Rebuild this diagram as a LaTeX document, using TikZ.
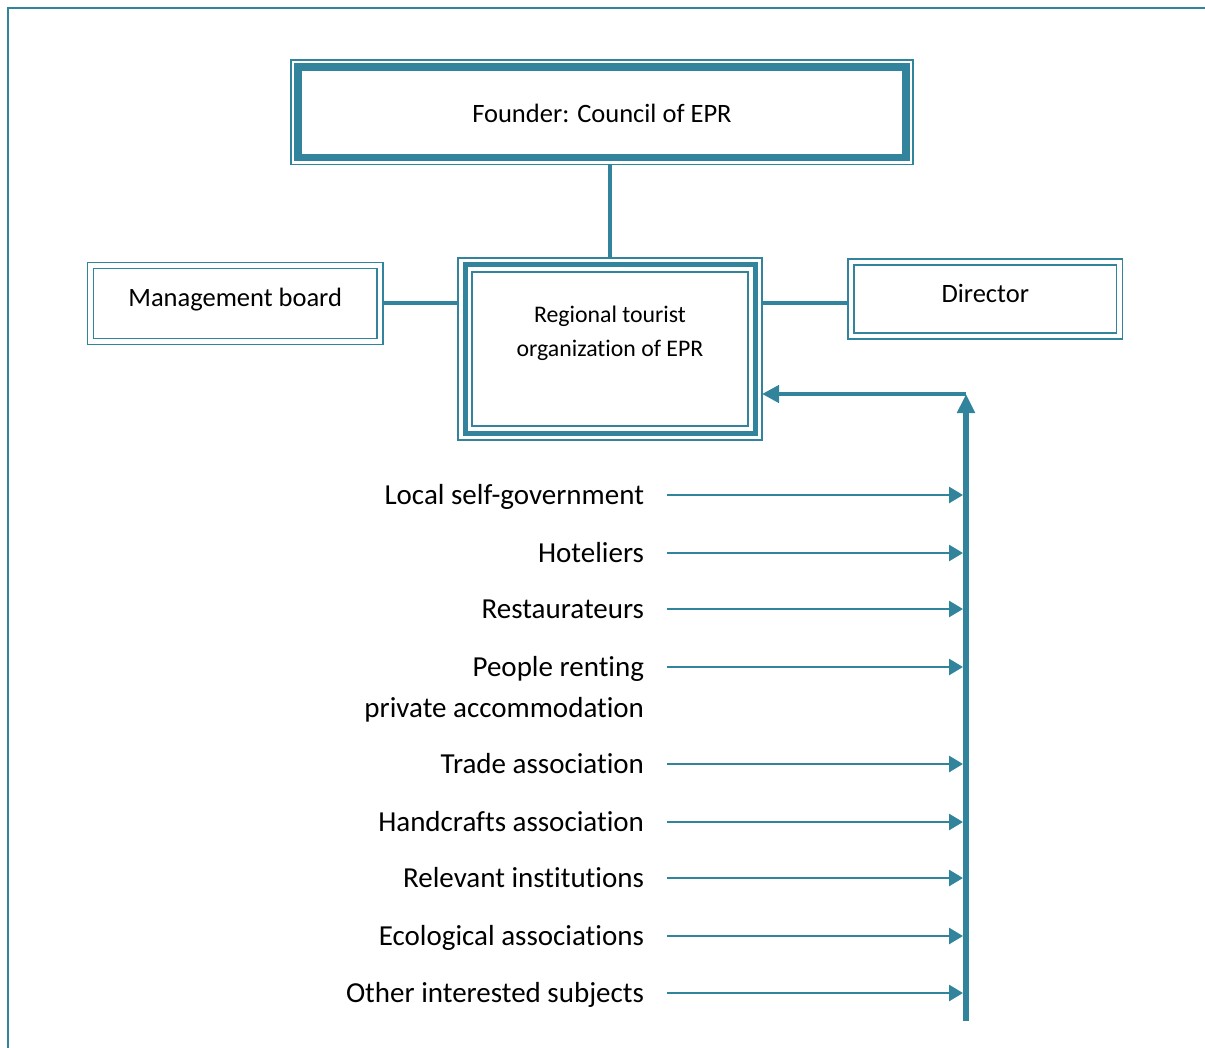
\documentclass[tikz,border=0pt]{standalone}
\usepackage{fontspec}
\setmainfont{Carlito}[RawFeature={-liga;-clig;-calt;-dlig}]
\usetikzlibrary{arrows.meta}
\definecolor{epr}{HTML}{31849B}
\tikzset{
  thickthin/.style={draw=epr, line width=3.6pt, inner sep=0pt, outer sep=3.5pt,
    append after command={\pgfextra{\draw[epr, line width=.75pt]
      (\tikzlastnode.north west) rectangle (\tikzlastnode.south east);}}},
  triple/.style={draw=epr, line width=2.5pt, inner sep=0pt, outer sep=3.5pt,
    append after command={\pgfextra{\draw[epr, line width=.75pt]
      (\tikzlastnode.north west) rectangle (\tikzlastnode.south east)
      ([shift={(7pt,-7pt)}]\tikzlastnode.north west) rectangle ([shift={(-7pt,7pt)}]\tikzlastnode.south east);}}},
  twin/.style={draw=epr, double=white, line width=.75pt, double distance=2.25pt, inner sep=0pt, outer sep=1.5pt},
  boxtext/.style={font=\fontsize{13.25}{16}\selectfont},
  rtotext/.style={font=\fontsize{11.9}{17}\selectfont, align=center, yshift=8pt},
  item/.style={anchor=east, inner sep=0pt, outer xsep=11.5pt, outer ysep=0pt,
    text height=11pt, text depth=1.84pt, font=\fontsize{14.5}{20.8}\selectfont},
  link/.style={draw=epr, line width=2.1pt},
  feed/.style={draw=epr, line width=1.4pt, -{Triangle[length=7pt,width=8pt]}, shorten >=1.5pt},
}
\begin{document}
\begin{tikzpicture}[x=0.5pt, y=-0.5pt]
  \useasboundingbox (0,0) rectangle (1205,1048);
  \draw[epr, line width=1.15pt] (1205,8) -- (8,8) -- (8,1048);

  \node[thickthin, boxtext, minimum width=304pt, minimum height=45.25pt, text height=11pt, text depth=0.87pt] (founder) at (602,112.25) {Founder: Council of EPR};
  \node[triple, minimum width=145pt, minimum height=84pt, label={[rtotext]center:Regional tourist\\organization of EPR}] (rto) at (610,349) {};
  \node[twin, boxtext, minimum width=144.85pt, minimum height=38.1pt, text height=7pt, text depth=3.62pt] (mgmt) at (235.2,303.4) {Management board};
  \node[twin, boxtext, minimum width=134.25pt, minimum height=37pt, text height=7pt, text depth=3.12pt] (dir) at (985.25,299) {Director};

  \draw[link] (rto.north) -- (rto.north |- founder.south);
  \draw[link] (mgmt.east) -- (mgmt.east -| rto.west);
  \draw[link] (rto.east |- mgmt.east) -- (mgmt.east -| dir.west);

  \coordinate (busfoot) at (966,1021);
  \coordinate (bustop) at (966,394);
  \draw[epr, line width=3.2pt, -{Triangle[length=9.5pt,width=8.5pt]}] (busfoot) -- (bustop);
  \draw[epr, line width=2.2pt, -{Triangle[length=8.5pt,width=8.5pt]}] (bustop) -- (bustop -| rto.east);

  \foreach \y/\nm/\lbl in {495/lsg/Local self-government, 553/hotel/Hoteliers, 609/rest/Restaurateurs,
      667/renters/{\begin{tabular}[t]{@{}r@{}}People renting\\private accommodation\end{tabular}},
      764/trade/Trade association, 822/craft/Handcrafts association, 878/inst/Relevant institutions,
      936/eco/Ecological associations, 993/other/Other interested subjects}{
    \node[item] (\nm) at (667,\y) {\lbl};
    \draw[feed] (\nm.east) -- (\nm.east -| busfoot);
  }
\end{tikzpicture}
\end{document}
